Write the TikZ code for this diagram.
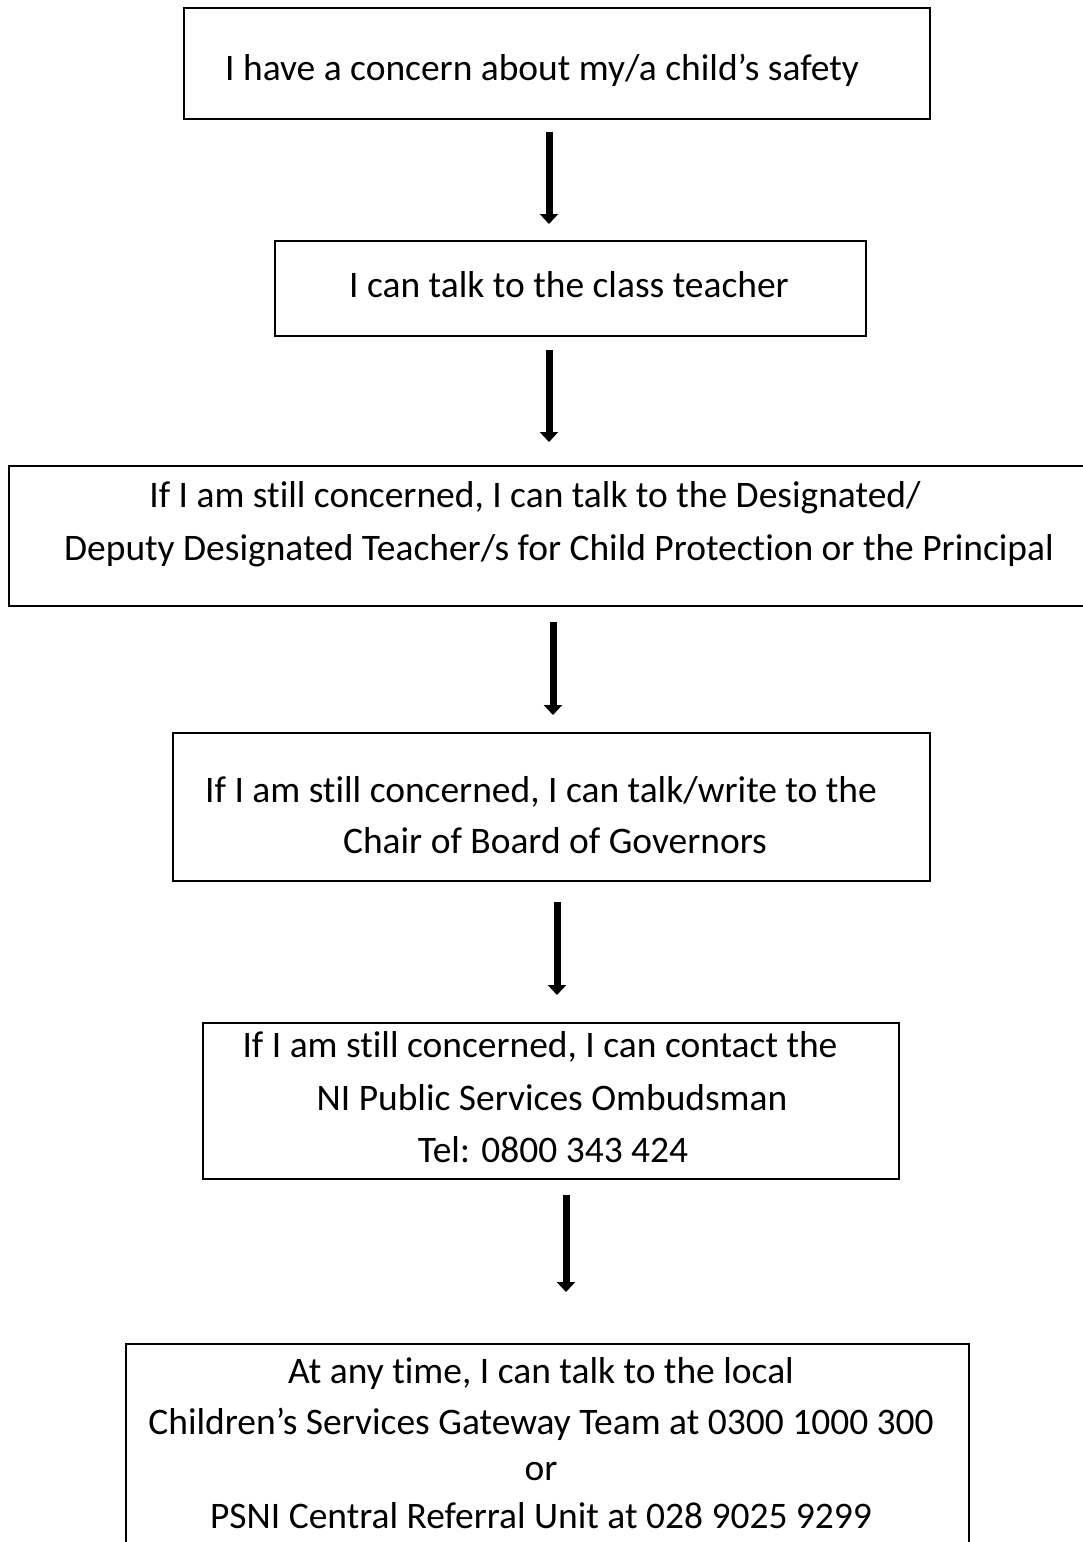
\documentclass[tikz,border=0pt]{standalone}
\usepackage{fontspec}
\setmainfont{Carlito}[Ligatures=NoCommon]
\usetikzlibrary{arrows.meta}
\newdimen\px \px=0.75pt
\begin{document}
\begin{tikzpicture}[x=0.75pt,y=-0.75pt,
  boxst/.style={draw=black,line width=1.5pt,rectangle,anchor=north west,inner sep=0pt},
  txt/.style={anchor=base,inner sep=0pt,font=\fontsize{28.1}{39}\selectfont},
  arr/.style={line width=5.25pt,-{Triangle[width=13.5pt,length=7.5pt]}}]
\useasboundingbox (0,0) rectangle (1082,1542);
% boxes
\node[boxst,minimum width=746\px,minimum height=111\px] (b1) at (183,7) {};
\node[boxst,minimum width=591\px,minimum height=95\px] (b2) at (274,240) {};
\node[boxst,minimum width=1087\px,minimum height=140\px] (b3) at (8,465) {};
\node[boxst,minimum width=757\px,minimum height=148\px] (b4) at (172,732) {};
\node[boxst,minimum width=696\px,minimum height=156\px] (b5) at (202,1022) {};
\node[boxst,minimum width=843\px,minimum height=220\px] (b6) at (125,1343) {};
% texts
\node[txt] (t1) at (542,80) {I have a concern about my/a child’s safety};
\node[txt] (t2) at (569,297) {I can talk to the class teacher};
\node[txt] (t3a) at (535,507) {If I am still concerned, I can talk to the Designated/};
\node[txt] (t3b) at (559,560) {Deputy Designated Teacher/s for Child Protection or the Principal};
\node[txt] (t4a) at (541,802) {If I am still concerned, I can talk/write to the};
\node[txt] (t4b) at (555,853) {Chair of Board of Governors};
\node[txt] (t5a) at (540,1057) {If I am still concerned, I can contact the};
\node[txt] (t5b) at (552,1110) {NI Public Services Ombudsman};
\node[txt] (t5c) at (553,1162) {Tel: 0800 343 424};
\node[txt] (t6a) at (541,1383) {At any time, I can talk to the local};
\node[txt] (t6b) at (541,1434) {Children’s Services Gateway Team at 0300 1000 300};
\node[txt] (t6c) at (541,1480) {or};
\node[txt] (t6d) at (541,1528) {PSNI Central Referral Unit at 028 9025 9299};
% arrows
\coordinate (a1s) at (549,132); \coordinate (a1e) at (549,224);
\coordinate (a2s) at (549,350); \coordinate (a2e) at (549,442);
\coordinate (a3s) at (553,622); \coordinate (a3e) at (553,715);
\coordinate (a4s) at (557,902); \coordinate (a4e) at (557,995);
\coordinate (a5s) at (566,1195); \coordinate (a5e) at (566,1292);
\draw[arr] (a1s) -- (a1e);
\draw[arr] (a2s) -- (a2e);
\draw[arr] (a3s) -- (a3e);
\draw[arr] (a4s) -- (a4e);
\draw[arr] (a5s) -- (a5e);
\end{tikzpicture}
\end{document}
